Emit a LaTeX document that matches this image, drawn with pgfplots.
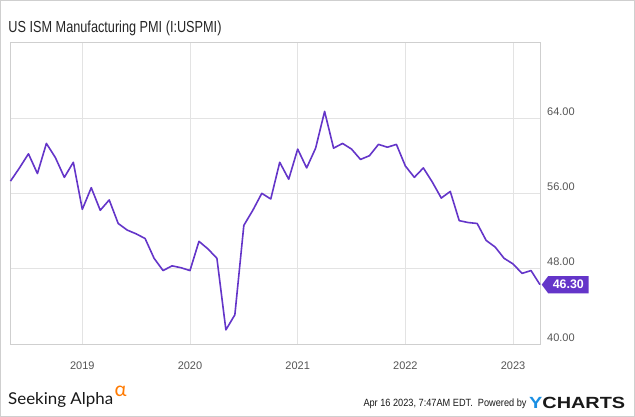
\documentclass[border=0pt]{standalone}
\usepackage{pgfplots}
\pgfplotsset{compat=1.18}
\usepackage{fontspec}
\usepackage{graphicx}
\setmainfont{Liberation Sans}
\newfontfamily\latofont{Lato}
\definecolor{pmi}{HTML}{6435C9}
\definecolor{gridc}{HTML}{E3E3E3}
\definecolor{axisc}{HTML}{CFCFCF}
\definecolor{tickc}{HTML}{555555}
\definecolor{ycblue}{HTML}{1A8FE3}
\definecolor{saorange}{HTML}{FF7A00}
\pgfplotstableread{
x y
-8 57.3
-7 58.7
-6 60.2
-5 58.1
-4 61.3
-3 59.8
-2 57.7
-1 59.3
0 54.3
1 56.6
2 54.2
3 55.3
4 52.8
5 52.1
6 51.7
7 51.2
8 49.1
9 47.8
10 48.3
11 48.1
12 47.8
13 50.9
14 50.1
15 49.1
16 41.5
17 43.1
18 52.6
19 54.2
20 56.0
21 55.4
22 59.3
23 57.5
24 60.7
25 58.7
26 60.8
27 64.7
28 60.8
29 61.3
30 60.7
31 59.6
32 60.0
33 61.2
34 60.9
35 61.2
36 58.9
37 57.7
38 58.7
39 57.2
40 55.5
41 56.2
42 53.1
43 52.9
44 52.8
45 51.0
46 50.3
47 49.1
48 48.5
49 47.5
50 47.8
51 46.3
}\pmidata
\begin{document}
\begin{tikzpicture}[x=1pt,y=1pt]
\useasboundingbox (0,0) rectangle (635,417);
\fill[white] (0,0) rectangle (635,417);
\draw[axisc, line width=1pt] (0.5,0.5) rectangle (634.5,416.5);
\node[anchor=base west, inner sep=0pt, text=black!85] at (8.3,384.5) {\resizebox{213pt}{11.6pt}{US ISM Manufacturing PMI (I:USPMI)}};
\begin{axis}[
  at={(10.5pt,73pt)}, anchor=south west, scale only axis,
  width=529.5pt, height=301.3pt,
  xmin=-8, xmax=51, ymin=40, ymax=72,
  xtick={0,12,24,36,48},
  xticklabels={2019,2020,2021,2022,2023},
  ytick={40,48,56,64},
  yticklabel pos=right,
  grid=major,
  major grid style={gridc, line width=0.8pt},
  axis line style={axisc, line width=0.8pt},
  major tick length=0pt,
  tick label style={font=\fontsize{11}{11}\selectfont, text=tickc, inner sep=0pt},
  yticklabel style={anchor=base west, xshift=7pt, yshift=2.8pt,
    /pgf/number format/fixed, /pgf/number format/fixed zerofill,
    /pgf/number format/precision=2, /pgf/number format/assume math mode=true},
  xticklabel style={anchor=base, yshift=-25.5pt},
  clip=false
]
\addplot[pmi, line width=1.6pt, line join=round, mark=none] table[x=x,y=y] {\pmidata};
\fill[pmi] ([xshift=1.7pt]axis cs:51,46.3) -- ++(6.5pt,8.65pt) -- ++(40.5pt,0pt) -- ++(0pt,-17.3pt) -- ++(-40.5pt,0pt) -- cycle;
\node[text=white, font=\bfseries\fontsize{12.4}{12.4}\selectfont, inner sep=0pt] at ([xshift=28.3pt]axis cs:51,46.3) {46.30};
\end{axis}
\node[anchor=base west, inner sep=0pt, text=black!90] at (8,12) {\resizebox{105pt}{12pt}{\latofont Seeking Alpha}};
\node[anchor=base west, inner sep=0pt, text=saorange] at (114.5,20) {\resizebox{12pt}{!}{\latofont\fontsize{16}{16}\selectfont α}};
\node[anchor=base west, inner sep=0pt, text=black!90] at (363.3,10.3) {\resizebox{163pt}{7.6pt}{Apr 16 2023, 7:47AM EDT.\ \ Powered by}};
\node[anchor=base west, inner sep=0pt] at (529,8.3) {\resizebox{96pt}{11.3pt}{\bfseries\textcolor{ycblue}{Y}\textcolor{black!90}{CHARTS}}};
\end{tikzpicture}
\end{document}
